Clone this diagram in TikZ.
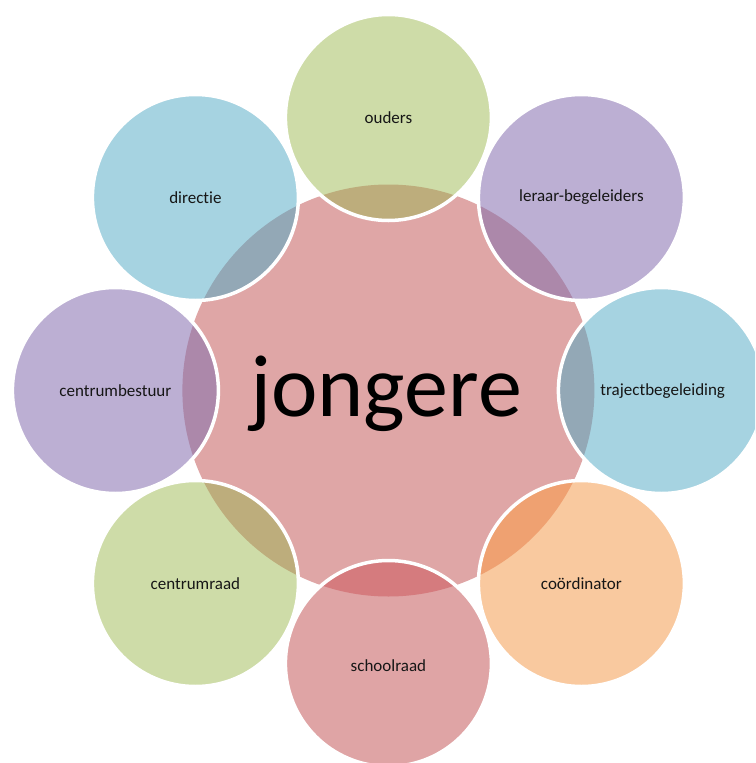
\documentclass[tikz,border=0pt]{standalone}
\usepackage{fontspec}
\setmainfont{Carlito}[Ligatures=NoCommon]
\definecolor{cpink}{HTML}{DFA6A6}
\definecolor{cgreen}{HTML}{CEDCA8}
\definecolor{cgreenov}{HTML}{BDAD7C}
\definecolor{cblue}{HTML}{A6D3E1}
\definecolor{cblueov}{HTML}{93A8B6}
\definecolor{clav}{HTML}{BCAFD3}
\definecolor{clavov}{HTML}{AC88AA}
\definecolor{cpeach}{HTML}{F9C99F}
\definecolor{cpeachov}{HTML}{EFA171}
\definecolor{crose}{HTML}{DFA4A5}
\definecolor{croseov}{HTML}{D57B7E}
\definecolor{labeltext}{HTML}{161616}
\newcommand\drawpetal[5]{%
  \coordinate (#1) at (#2,#3);
  \fill[#4] (#1) circle (103);
  \begin{scope}
    \clip (C) circle (206);
    \fill[#5] (#1) circle (103);
  \end{scope}
  \draw[ring] (#1) circle (103);
}
\begin{document}
\begin{tikzpicture}[x=1pt,y=-1pt,
  ring/.style={draw=white,line width=3.5pt},
  lbl/.style={font=\fontsize{17}{20}\selectfont,text=labeltext,inner sep=0pt},
  hub/.style={font=\fontsize{88}{100}\selectfont,text=black,inner sep=0pt}]
\useasboundingbox (0,0) rectangle (755,763);
\clip (0,0) rectangle (755,763);
\coordinate (C) at (388.4,390.5);
\fill[cpink] (C) circle (206);
\drawpetal{pOuders}{388.4}{117.5}{cgreen}{cgreenov}
\drawpetal{pLeraar}{581.4}{197.5}{clav}{clavov}
\drawpetal{pTraject}{661.4}{390.5}{cblue}{cblueov}
\drawpetal{pCoord}{581.4}{583.5}{cpeach}{cpeachov}
\drawpetal{pSchool}{388.4}{663.5}{crose}{croseov}
\drawpetal{pRaad}{195.4}{583.5}{cgreen}{cgreenov}
\drawpetal{pBestuur}{115.4}{390.5}{clav}{clavov}
\drawpetal{pDirectie}{195.4}{197.5}{cblue}{cblueov}
\node[hub] (jongere) at (386,394) {jongere};
\node[lbl] (tOuders) at (pOuders) {ouders};
\node[lbl] (tLeraar) at (pLeraar) {leraar-begeleiders};
\node[lbl] (tTraject) at (662.7,391.5) {trajectbegeleiding};
\node[lbl] (tCoord) at (pCoord) {coördinator};
\node[lbl] (tSchool) at (388.4,665.5) {schoolraad};
\node[lbl] (tRaad) at (pRaad) {centrumraad};
\node[lbl] (tBestuur) at (pBestuur) {centrumbestuur};
\node[lbl] (tDirectie) at (pDirectie) {directie};
\end{tikzpicture}
\end{document}
